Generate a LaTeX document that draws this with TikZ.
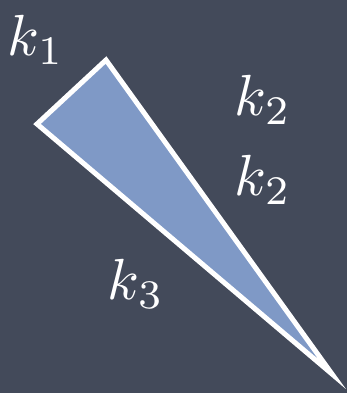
\documentclass[tikz,border=0pt]{standalone}
\begin{document}
\begin{tikzpicture}[x=1pt,y=-1pt,
  lbl/.style={text=white, inner sep=0pt}]
\definecolor{bgc}{HTML}{434A5A}
\definecolor{tri}{HTML}{7F99C6}
\fill[bgc] (0,0) rectangle (347,393);
\useasboundingbox (0,0) rectangle (347,393);
\coordinate (A) at (37,124);
\coordinate (B) at (106,60);
\coordinate (C) at (332,374);
\filldraw[fill=tri, draw=white, line width=5pt, line join=miter] (A) -- (B) -- (C) -- cycle;
\node[lbl] (k1) at (36,40) {\scalebox{5.8}{$k_1$}};
\node[lbl] (k2a) at (263,100) {\scalebox{5.8}{$k_2$}};
\node[lbl] (k2b) at (263,180) {\scalebox{5.8}{$k_2$}};
\node[lbl] (k3) at (136,284) {\scalebox{5.8}{$k_3$}};
\end{tikzpicture}
\end{document}
